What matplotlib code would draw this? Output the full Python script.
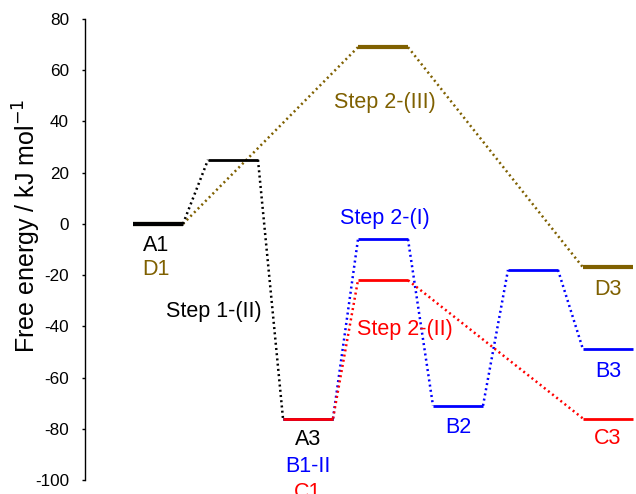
import matplotlib.pyplot as plt

plt.rcParams["font.family"] = ["Liberation Sans", "DejaVu Sans"]
plt.rcParams["axes.unicode_minus"] = False

BLACK = "#000000"
BLUE = "#0000FF"
RED = "#FF0000"
BROWN = "#7F6000"

# pathway data: slot index and free energy (kJ/mol)
black_slots = [0, 1, 2]
black_energy = [0, 25, -76]

blue_slots = [2, 3, 4, 5, 6]
blue_energy = [-76, -6, -71, -18, -49]

red_slots = [2, 3, 6]
red_energy = [-76, -22, -76]

brown_slots = [0, 3, 6]
brown_energy = [0, 69, -17]

# labels: (text, x, baseline y, color)
labels = [
    ("A1", 0.92, -10.5, BLACK),
    ("D1", 0.92, -19.9, BROWN),
    ("Step 1-(II)", 3.22, -36.2, BLACK),
    ("A3", 7.0, -86.3, BLACK),
    ("B1-II", 7.0, -96.7, BLUE),
    ("C1", 7.0, -107.1, RED),
    ("Step 2-(III)", 10.08, 45.3, BROWN),
    ("Step 2-(I)", 10.08, 0.0, BLUE),
    ("Step 2-(II)", 10.88, -43.3, RED),
    ("B2", 13.0, -81.6, BLUE),
    ("D3", 19.0, -27.7, BROWN),
    ("B3", 19.0, -59.6, BLUE),
    ("C3", 19.0, -86.0, RED),
]

STEP = 3
WIDTH = 2


def draw_path(ax, slots, energy, color, lw):
    for s, e in zip(slots, energy):
        ax.plot([s * STEP, s * STEP + WIDTH], [e, e], color=color, lw=lw,
                solid_capstyle="butt", zorder=3)
    for i in range(len(slots) - 1):
        ax.plot([slots[i] * STEP + WIDTH, slots[i + 1] * STEP],
                [energy[i], energy[i + 1]], color=color, lw=1.8,
                linestyle=(0, (0.8, 1.3)), zorder=2)


fig = plt.figure(figsize=(6.36, 4.94), dpi=100)
ax = fig.add_axes([85 / 636, 14 / 494, 1 - 85 / 636, 461 / 494])

draw_path(ax, brown_slots, brown_energy, BROWN, 3)
draw_path(ax, black_slots, black_energy, BLACK, 2)
ax.plot([0, WIDTH], [0, 0], color=BLACK, lw=3, solid_capstyle="butt", zorder=4)
draw_path(ax, blue_slots, blue_energy, BLUE, 2)
draw_path(ax, red_slots, red_energy, RED, 2)

for text, x, y, c in labels:
    ax.text(x, y, text, color=c, fontsize=15.5, ha="center", va="baseline",
            clip_on=False)

ax.set_xlim(-1.92, 20.12)
ax.set_ylim(-100, 80)
ax.set_yticks(range(-100, 81, 20))
ax.tick_params(axis="y", length=2.5, width=1, pad=9, labelsize=12.3)
ax.set_xticks([])
for sp in ["top", "right", "bottom"]:
    ax.spines[sp].set_visible(False)
ax.spines["left"].set_linewidth(1)
ax.set_ylabel("Free energy / kJ mol$^{-1}$", fontsize=18, va="center")
ax.yaxis.set_label_coords(-0.105, 0.551)

fig.savefig("out.png", dpi=100)
